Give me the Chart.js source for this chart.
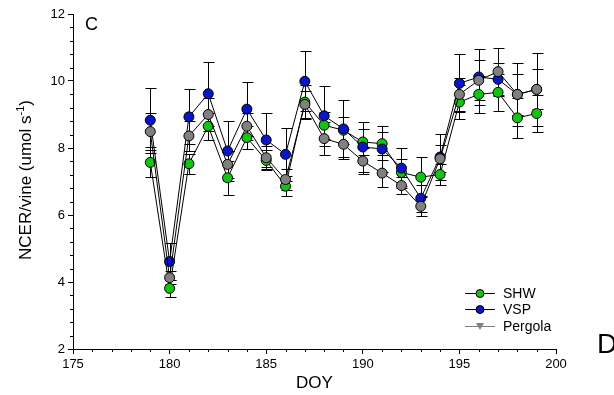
<!DOCTYPE html>
<html>
<head>
<meta charset="utf-8">
<script src="https://cdn.jsdelivr.net/npm/chart.js@4.4.0/dist/chart.umd.min.js"></script>
<style>
  body { margin: 0; background: #fff; }
  #wrap { width: 614px; height: 395px; position: relative; }
</style>
</head>
<body>
<div id="wrap"><canvas id="ncerChart"></canvas></div>
<script>
// NCER por planta, tres sistemas de conducción
const doy = [179, 180, 181, 182, 183, 184, 185, 186, 187, 188, 189, 190, 191, 192, 193, 194, 195, 196, 197, 198, 199];

const shw     = [7.57, 3.81, 7.53, 8.65, 7.11, 8.31, 7.63, 6.86, 9.37, 8.68, 8.53, 8.18, 8.13, 7.27, 7.13, 7.21, 9.37, 9.60, 9.66, 8.90, 9.03];
const shwErr  = [0.45, 0.25, 0.30, 0.40, 0.50, 0.35, 0.30, 0.30, 0.50, 0.40, 0.40, 0.40, 0.35, 0.40, 0.60, 0.30, 0.50, 0.55, 0.55, 0.60, 0.55];

const vsp     = [8.83, 4.61, 8.93, 9.62, 7.91, 9.16, 8.24, 7.81, 9.99, 8.96, 8.57, 8.03, 7.97, 7.40, 6.50, 7.73, 9.93, 10.12, 10.05, 9.60, 9.75];
const vspErr  = [0.97, 0.55, 0.82, 0.95, 0.90, 0.80, 0.80, 0.80, 0.90, 0.90, 0.85, 0.75, 0.70, 0.60, 0.40, 0.70, 0.87, 0.85, 0.50, 0.60, 0.60];

const pergola    = [8.49, 4.13, 8.36, 9.00, 7.51, 8.65, 7.71, 7.06, 9.30, 8.28, 8.11, 7.61, 7.25, 6.88, 6.26, 7.68, 9.60, 10.02, 10.28, 9.60, 9.75];
const pergolaErr = [0.55, 0.20, 0.45, 0.50, 0.40, 0.40, 0.35, 0.30, 0.40, 0.50, 0.45, 0.40, 0.40, 0.25, 0.30, 0.40, 0.50, 0.60, 0.70, 0.95, 1.10];

const xTicks = [175, 180, 185, 190, 195, 200];
const yTicks = [2, 4, 6, 8, 10, 12];

const fuente = "'Liberation Sans', Arial, sans-serif";

function puntos(valores) {
    return doy.map((d, i) => ({ x: d, y: valores[i] }));
}

// Barras de error con remates
const barrasError = {
    id: 'barrasError',
    beforeDatasetsDraw(chart) {
        const ctx = chart.ctx;
        const sx = chart.scales.x, sy = chart.scales.y;
        ctx.save();
        ctx.strokeStyle = '#000';
        ctx.lineWidth = 1;
        chart.data.datasets.forEach(ds => {
            ds.data.forEach((p, i) => {
                const px = Math.round(sx.getPixelForValue(p.x)) + 0.5;
                const arriba = Math.round(sy.getPixelForValue(p.y + ds.errores[i])) + 0.5;
                const abajo = Math.round(sy.getPixelForValue(p.y - ds.errores[i])) + 0.5;
                ctx.beginPath();
                ctx.moveTo(px, arriba); ctx.lineTo(px, abajo);
                ctx.moveTo(px - 5, arriba); ctx.lineTo(px + 6, arriba);
                ctx.moveTo(px - 5, abajo); ctx.lineTo(px + 6, abajo);
                ctx.stroke();
            });
        });
        ctx.restore();
    }
};

// Marcas menores, título del eje Y, letras de panel y leyenda
const extras = {
    id: 'extras',
    afterDraw(chart) {
        const ctx = chart.ctx;
        const sx = chart.scales.x, sy = chart.scales.y;
        const area = chart.chartArea;
        ctx.save();
        ctx.strokeStyle = '#000';
        ctx.lineWidth = 1;
        ctx.beginPath();
        for (let v = 176; v < 200; v++) {
            if (v % 5 === 0) continue;
            const px = Math.round(sx.getPixelForValue(v)) + 0.5;
            ctx.moveTo(px, area.bottom);
            ctx.lineTo(px, area.bottom + 3);
        }
        for (let k = 1; k < 25; k++) {
            if (k % 5 === 0) continue;
            const py = Math.round(sy.getPixelForValue(2 + k * 0.4)) + 0.5;
            ctx.moveTo(area.left, py);
            ctx.lineTo(area.left - 3, py);
        }
        ctx.stroke();

        // título Y con superíndice
        ctx.fillStyle = '#000';
        ctx.translate(31, 180);
        ctx.rotate(-Math.PI / 2);
        const base = 'NCER/vine (umol s';
        ctx.font = '17px ' + fuente;
        const w1 = ctx.measureText(base).width;
        const w3 = ctx.measureText(')').width;
        ctx.font = '11px ' + fuente;
        const w2 = ctx.measureText('-1').width;
        let x0 = -(w1 + w2 + w3) / 2;
        ctx.textBaseline = 'alphabetic';
        ctx.font = '17px ' + fuente;
        ctx.fillText(base, x0, 0);
        ctx.font = '11px ' + fuente;
        ctx.fillText('-1', x0 + w1, -7);
        ctx.font = '17px ' + fuente;
        ctx.fillText(')', x0 + w1 + w2, 0);
        ctx.setTransform(1, 0, 0, 1, 0, 0);

        ctx.font = '18px ' + fuente;
        ctx.fillText('C', 85, 30);
        ctx.font = '28px ' + fuente;
        ctx.fillText('D', 597, 353);

        // leyenda
        const filas = [
            { txt: 'SHW', y: 293, linea: '#000', relleno: '#12c312', forma: 'circulo' },
            { txt: 'VSP', y: 309, linea: '#000', relleno: '#0a14c8', forma: 'circulo' },
            { txt: 'Pergola', y: 326, linea: '#808080', relleno: '#808080', forma: 'triangulo' }
        ];
        filas.forEach(f => {
            ctx.strokeStyle = f.linea;
            ctx.beginPath();
            ctx.moveTo(465, f.y + 0.5); ctx.lineTo(495, f.y + 0.5);
            ctx.stroke();
            ctx.fillStyle = f.relleno;
            ctx.beginPath();
            if (f.forma === 'circulo') {
                ctx.arc(480, f.y + 0.5, 4, 0, Math.PI * 2);
                ctx.fill();
                ctx.strokeStyle = '#000';
                ctx.stroke();
            } else {
                ctx.moveTo(476, f.y - 3); ctx.lineTo(484, f.y - 3); ctx.lineTo(480, f.y + 4);
                ctx.closePath();
                ctx.fill();
            }
            ctx.fillStyle = '#000';
            ctx.font = '14px ' + fuente;
            ctx.textBaseline = 'middle';
            ctx.fillText(f.txt, 503, f.y + 1);
        });
        ctx.restore();
    }
};

function serie(nombre, valores, errores, color, orden) {
    return {
        label: nombre,
        data: puntos(valores),
        errores: errores,
        showLine: true,
        borderColor: '#000',
        borderWidth: 1,
        pointRadius: 5,
        pointBorderWidth: 1,
        pointBackgroundColor: color,
        pointBorderColor: '#000',
        order: orden
    };
}

const ctx = document.getElementById('ncerChart').getContext('2d');
new Chart(ctx, {
    type: 'scatter',
    data: {
        datasets: [
            serie('SHW', shw, shwErr, '#12c312', 2),
            serie('VSP', vsp, vspErr, '#0a14c8', 1),
            serie('Pergola', pergola, pergolaErr, '#808080', 0)
        ]
    },
    options: {
        responsive: true,
        maintainAspectRatio: false,
        animation: false,
        layout: { padding: { left: 0, top: 14, right: 58, bottom: 0 } },
        plugins: {
            legend: { display: false },
            tooltip: { enabled: false }
        },
        scales: {
            x: {
                type: 'linear',
                min: 175,
                max: 200,
                afterBuildTicks: s => { s.ticks = xTicks.map(v => ({ value: v })); },
                afterFit: s => { s.height = 46; },
                grid: { drawOnChartArea: false, color: '#000', tickLength: 5 },
                border: { color: '#000', width: 1 },
                ticks: { color: '#000', font: { family: fuente, size: 13 }, padding: 3, maxRotation: 0 },
                title: { display: true, text: 'DOY', color: '#000', font: { family: fuente, size: 17 }, padding: { top: 0, bottom: 1 } }
            },
            y: {
                min: 2,
                max: 12,
                afterBuildTicks: s => { s.ticks = yTicks.map(v => ({ value: v })); },
                afterFit: s => { s.width = 73; },
                grid: { drawOnChartArea: false, color: '#000', tickLength: 5 },
                border: { color: '#000', width: 1 },
                ticks: { color: '#000', font: { family: fuente, size: 13 }, padding: 3 }
            }
        }
    },
    plugins: [barrasError, extras]
});
</script>
</body>
</html>
